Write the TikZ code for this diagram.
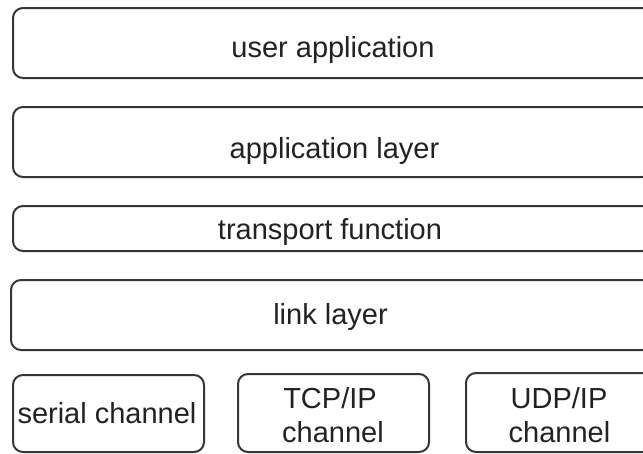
\documentclass[tikz,border=0pt]{standalone}
\usepackage{fontspec}
\setmainfont{Liberation Sans}
\definecolor{edge}{HTML}{363636}
\definecolor{ink}{HTML}{222222}
\begin{document}
\begin{tikzpicture}[x=1pt, y=-1pt,
  layerbox/.style={draw=edge, line width=2pt, rounded corners=10pt,
    inner sep=0pt, outer sep=0pt, fill=white},
  caption/.style={anchor=base, inner sep=0pt, text=ink,
    font=\fontsize{29}{34}\selectfont}]
  \fill[white] (0,0) rectangle (643,453);
  \useasboundingbox (0,0) rectangle (643,453);

  % protocol stack layers
  \node[layerbox, minimum width=639pt, minimum height=70pt] (user) at (332.5,43) {};
  \node[layerbox, minimum width=639pt, minimum height=70pt] (app) at (332.5,142) {};
  \node[layerbox, minimum width=639pt, minimum height=45pt] (transport) at (332.5,228.5) {};
  \node[layerbox, minimum width=641pt, minimum height=70pt] (link) at (331.5,315) {};

  % physical channels
  \node[layerbox, minimum width=191pt, minimum height=77pt] (serial) at (108.5,413.5) {};
  \node[layerbox, minimum width=191pt, minimum height=78pt] (tcp) at (333.5,413) {};
  \node[layerbox, minimum width=186pt, minimum height=79pt] (udp) at (559,412.5) {};

  % captions
  \node[caption] (tuser) at (333,57) {user application};
  \node[caption] (tapp) at (334.5,158) {application layer};
  \node[caption] (ttransport) at (330,239) {transport function};
  \node[caption] (tlink) at (330.5,324) {link layer};
  \node[caption] (tserial) at (107,423) {serial channel};
  \node[caption] (ttcpa) at (330,408) {TCP/IP};
  \node[caption] (ttcpb) at (333,442) {channel};
  \node[caption] (tudpa) at (559,408) {UDP/IP};
  \node[caption] (tudpb) at (559.5,442) {channel};
\end{tikzpicture}
\end{document}
